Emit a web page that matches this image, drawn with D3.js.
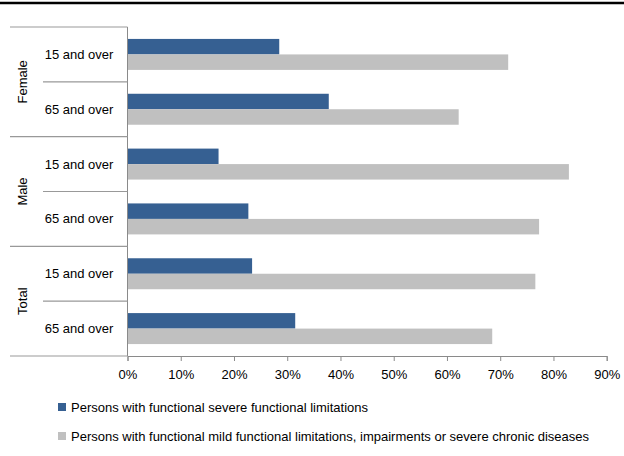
<!DOCTYPE html>
<html>
<head>
<meta charset="utf-8">
<script src="https://cdnjs.cloudflare.com/ajax/libs/d3/7.8.5/d3.min.js"></script>
<style>
	body { margin: 0; background: #fff; }
	svg text { font-family: "Liberation Sans", Arial, sans-serif; fill: #000; }
</style>
</head>
<body>
<div id="chart"></div>
<script>
'use strict';

// groups and age bands, top to bottom
var groups = ["Female", "Male", "Total"];
var ages = ["15 and over", "65 and over"];

// share of persons, in %, same order as rows (group x age)
var severe = [28.5, 37.8, 17.1, 22.7, 23.4, 31.5];
var mild = [71.5, 62.2, 82.9, 77.3, 76.6, 68.5];

var seriesNames = [
	"Persons with functional severe functional limitations",
	"Persons with functional mild functional limitations, impairments or severe chronic diseases"
];
var seriesColours = ["#366092", "#c0c0c0"];

var xTicks = [0, 10, 20, 30, 40, 50, 60, 70, 80, 90];

var width = 624, height = 456;
var plotLeft = 127.5, plotRight = 606.7, plotTop = 27, plotBottom = 356;

var rows = [];
groups.forEach(function (g) {
	ages.forEach(function (a) {
		rows.push({ group: g, age: a, key: g + "|" + a });
	});
});
rows.forEach(function (r, i) {
	r.values = [severe[i], mild[i]];
});

var svg = d3.select("#chart").append("svg")
	.attr("width", width)
	.attr("height", height);

// heavy rule across the top
svg.append("line")
	.attr("x1", 0).attr("x2", width)
	.attr("y1", 3).attr("y2", 3)
	.attr("stroke", "#000")
	.attr("stroke-width", 2.5);

var x = d3.scaleLinear().domain([0, 90]).range([plotLeft, plotRight]);

var y = d3.scaleBand()
	.domain(rows.map(function (r) { return r.key; }))
	.range([plotTop, plotBottom])
	.padding(0);

var ySeries = d3.scaleBand()
	.domain([0, 1])
	.range([0, y.bandwidth()])
	.paddingInner(0)
	.paddingOuter(0.77);

var yGroup = d3.scaleBand()
	.domain(groups)
	.range([plotTop, plotBottom])
	.padding(0);

// bars
var row = svg.selectAll(".row")
	.data(rows)
	.enter()
	.append("g")
	.attr("class", "row")
	.attr("transform", function (r) {
		return "translate(0," + y(r.key) + ")";
	});

row.selectAll("rect")
	.data(function (r) { return r.values; })
	.enter()
	.append("rect")
	.attr("x", x(0))
	.attr("y", function (v, i) { return ySeries(i); })
	.attr("width", function (v) { return x(v) - x(0); })
	.attr("height", ySeries.bandwidth())
	.attr("fill", function (v, i) { return seriesColours[i]; });

// x axis
var xAxis = d3.axisBottom(x)
	.tickValues(xTicks)
	.tickSize(5)
	.tickFormat(function (d) { return d + "%"; });

var xg = svg.append("g")
	.attr("transform", "translate(0," + plotBottom + ")")
	.call(xAxis);
xg.select(".domain").attr("stroke", "#8a8a8a");
xg.selectAll(".tick line").attr("stroke", "#8a8a8a");
xg.selectAll(".tick text")
	.attr("y", 14)
	.attr("font-size", "13px")
	.attr("font-family", "Liberation Sans, Arial, sans-serif")
	.attr("fill", "#000");

// vertical axis line
svg.append("line")
	.attr("x1", plotLeft).attr("x2", plotLeft)
	.attr("y1", plotTop).attr("y2", plotBottom)
	.attr("stroke", "#8a8a8a");

// category separators: short lines between ages, long lines between groups
var cuts = y.domain().map(function (k) { return y(k); }).concat([plotBottom]);
svg.selectAll(".sep")
	.data(cuts)
	.enter()
	.append("line")
	.attr("class", "sep")
	.attr("x1", function (d, i) { return i % 2 === 0 ? 10 : 43; })
	.attr("x2", plotLeft)
	.attr("y1", function (d) { return d; })
	.attr("y2", function (d) { return d; })
	.attr("stroke", "#999")
	.attr("stroke-width", 1.2);

// age labels
svg.selectAll(".age-label")
	.data(rows)
	.enter()
	.append("text")
	.attr("class", "age-label")
	.attr("x", 79)
	.attr("y", function (r) { return y(r.key) + y.bandwidth() / 2; })
	.attr("dy", "0.35em")
	.attr("text-anchor", "middle")
	.attr("font-size", "13px")
	.text(function (r) { return r.age; });

// group labels, rotated
svg.selectAll(".group-label")
	.data(groups)
	.enter()
	.append("text")
	.attr("class", "group-label")
	.attr("transform", function (g) {
		return "translate(22," + (yGroup(g) + yGroup.bandwidth() / 2) + ") rotate(-90)";
	})
	.attr("dy", "0.35em")
	.attr("text-anchor", "middle")
	.attr("font-size", "13px")
	.text(function (g) { return g; });

// legend
var legend = svg.selectAll(".legend")
	.data(seriesNames)
	.enter()
	.append("g")
	.attr("class", "legend")
	.attr("transform", function (d, i) {
		return "translate(58," + (407 + i * 29) + ")";
	});

legend.append("rect")
	.attr("x", 0)
	.attr("y", -4)
	.attr("width", 8)
	.attr("height", 8)
	.attr("fill", function (d, i) { return seriesColours[i]; });

legend.append("text")
	.attr("x", 13)
	.attr("dy", "0.35em")
	.attr("font-size", "13px")
	.text(function (d) { return d; });
</script>
</body>
</html>
